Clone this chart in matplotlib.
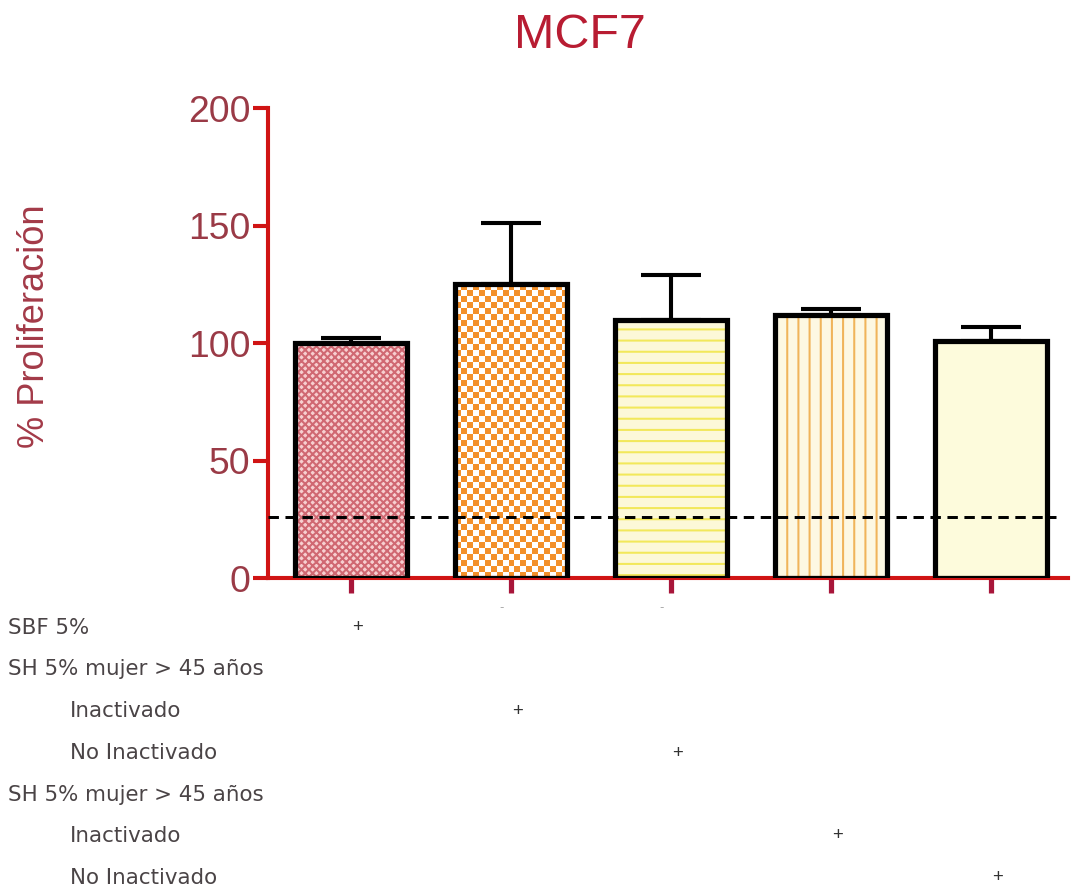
import numpy as np
import matplotlib
matplotlib.use("Agg")
import matplotlib.pyplot as plt
from matplotlib.colors import ListedColormap
from matplotlib.transforms import blended_transform_factory

# Proliferation of MCF7 cells under each serum condition
means = [100, 125, 110, 112, 101]
errors = [2, 26, 19, 2.5, 6]
cutoff = 26

row_labels = ["SBF 5%", "SH 5% mujer > 45 años", "Inactivado", "No Inactivado",
              "SH 5% mujer > 45 años", "Inactivado", "No Inactivado"]
row_indent = [False, False, True, True, False, True, True]
# which table row gets the "+" for each bar
plus_rows = [0, 2, 3, 5, 6]
# bars with a faint "-" left in the SBF header line
minus_bars = [1, 2]

faces = ["#f7cfd0", "white", "#fcf8d8", "#fdf8e2", "#fdfbdc"]
hatch_cols = ["#d06872", "white", "#f2e85a", "#f0b45a", "#fdfbdc"]
hatches = ["xxxxxx", "", "--", "||", ""]

dpi = 134
plt.rcParams["font.family"] = ["Liberation Sans", "DejaVu Sans"]
plt.rcParams["hatch.linewidth"] = 1.1

fig = plt.figure(figsize=(1073 / dpi, 890 / dpi), dpi=dpi)
ax = fig.add_axes([268 / 1073, 1 - 578 / 890, 800 / 1073, 470 / 890])

x = np.arange(len(means))
width = 0.7

# filled / hatched bodies
fills = ax.bar(x, means, width, color=faces, linewidth=0, zorder=1)
for p, h, hc in zip(fills, hatches, hatch_cols):
    p.set_hatch(h)
    p.set_edgecolor(hc)

ax.set_xlim(-0.52, 4.48)
ax.set_ylim(0, 200)

# orange checkerboard for the second bar
b = fills[1]
ext = b.get_window_extent()
n_cols = int(round(ext.width / 6))
n_rows = int(round(ext.height / 6))
checker = np.indices((n_rows, n_cols)).sum(axis=0) % 2
im = ax.imshow(checker, cmap=ListedColormap(["white", "#f3902a"]),
               extent=(b.get_x(), b.get_x() + b.get_width(), 0, b.get_height()),
               aspect="auto", interpolation="nearest", zorder=2)
im.set_clip_path(b)
ax.set_xlim(-0.52, 4.48)
ax.set_ylim(0, 200)

ax.axhline(cutoff, xmin=0, xmax=0.985, color="black", linestyle=(0, (3.5, 2.2)),
           linewidth=1.6, zorder=3)

# black outlines and upper error bars
ax.bar(x, means, width, facecolor="none", edgecolor="black", linewidth=2.8, zorder=4)
ax.errorbar(x, means, yerr=[[0] * len(means), errors], fmt="none", ecolor="black",
            elinewidth=2.2, capsize=16, capthick=2.2, zorder=4)

for side in ["top", "right"]:
    ax.spines[side].set_visible(False)
for side in ["left", "bottom"]:
    ax.spines[side].set_color("#d01414")
    ax.spines[side].set_linewidth(2.2)

ax.set_yticks([0, 50, 100, 150, 200])
ax.tick_params(axis="y", colors="#d01414", length=8, width=2.2, labelsize=20,
               labelcolor="#9a3a46", pad=1.5)
ax.set_xticks(x)
ax.set_xticklabels([])
ax.tick_params(axis="x", colors="#a8163a", length=8, width=2.8, direction="out")

ax.set_ylabel("% Proliferación", fontsize=19.5, color="#a33a48")
ax.yaxis.set_label_coords(-0.27, 0.536)
fig.text(0.54, 0.960, "MCF7", ha="center", va="center", fontsize=26, color="#b81c32")

# treatment table underneath the bars
row_y = [628, 669, 711, 753, 795, 836, 878]
for lab, ind, yp in zip(row_labels, row_indent, row_y):
    fig.text((70 if ind else 8) / 1073, 1 - yp / 890, lab, ha="left", va="center",
             fontsize=11.5, color="#4a4446", family="DejaVu Sans")

tr = blended_transform_factory(ax.transData, fig.transFigure)
for xi, r in zip(x, plus_rows):
    ax.text(xi + 0.04, 1 - row_y[r] / 890, "+", transform=tr, ha="center", va="center",
            fontsize=10, color="#333333", clip_on=False)
for i in minus_bars:
    ax.text(x[i] - 0.06, 1 - 608 / 890, "-", transform=tr, ha="center", va="center",
            fontsize=7, color="#a0a0a0", clip_on=False)

fig.savefig("out.png", dpi=dpi, facecolor="white")
